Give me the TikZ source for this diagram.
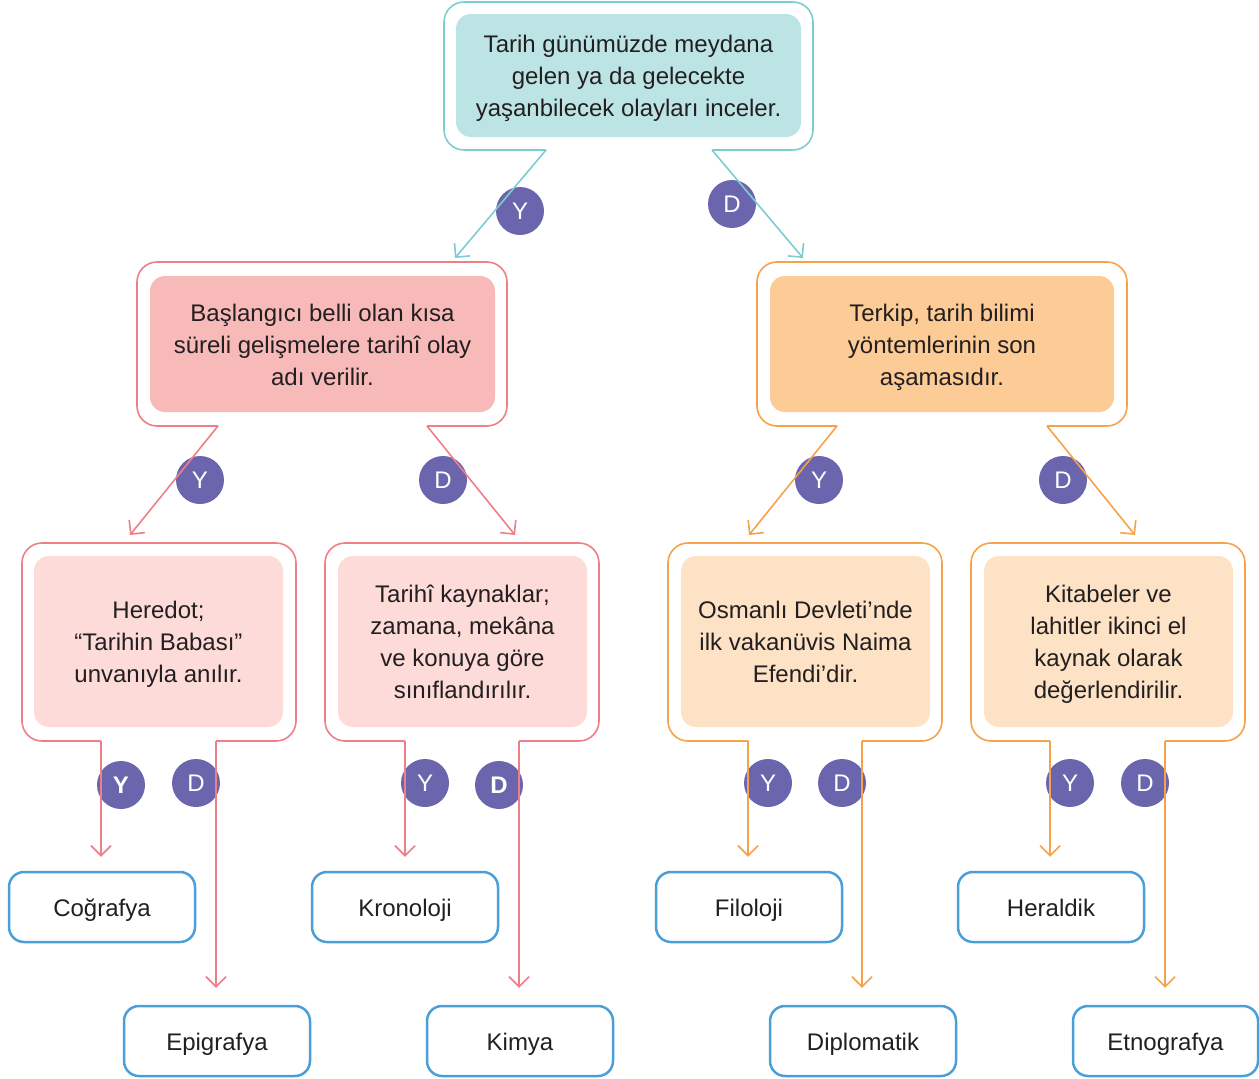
\documentclass[tikz,border=0pt]{standalone}
\usepackage{fontspec}
\setmainfont{Liberation Sans}
\usetikzlibrary{arrows.meta}
\definecolor{tealS}{HTML}{7CCDD1}
\definecolor{tealF}{HTML}{BDE4E5}
\definecolor{pinkS}{HTML}{EF7F86}
\definecolor{pinkF}{HTML}{F8B9B9}
\definecolor{pinkL}{HTML}{FCDBD9}
\definecolor{oraS}{HTML}{F6A24A}
\definecolor{oraF}{HTML}{FDCB95}
\definecolor{oraL}{HTML}{FDE2C6}
\definecolor{purp}{HTML}{6B65AD}
\definecolor{blueS}{HTML}{4B9FD8}
\definecolor{txtc}{HTML}{231F20}
\newcommand{\mlines}[1]{\raisebox{-3pt}[\height][\depth]{\begin{tabular}{@{}c@{}}#1\end{tabular}}}
\newcommand{\oneline}[1]{\raisebox{-3pt}[\height][\depth]{\strut #1}}
\begin{document}
\begin{tikzpicture}[x=1pt,y=-1pt,
  txt/.style={font=\fontsize{24}{32}\selectfont, text=txtc},
  inbox/.style={txt, rounded corners=15pt, inner sep=0pt},
  frame/.style={line width=1.6pt, rounded corners=20pt},
  conn/.style={line width=1.6pt, -{Straight Barb[length=10pt,width=20pt,line width=1.6pt]}},
  badge/.style={circle, fill=purp, text=white, minimum size=48pt, inner sep=0pt, font=\fontsize{24}{28}\selectfont},
  leaf/.style={txt, draw=blueS, line width=2.5pt, rounded corners=15pt, minimum width=186pt, minimum height=70pt, fill=white, inner sep=0pt}]
\useasboundingbox (0,0) rectangle (1259,1079);

% inner boxes
\node[inbox, fill=tealF, minimum width=345pt, minimum height=123pt] (top) at (628.5,75.5) {\mlines{Tarih günümüzde meydana\\gelen ya da gelecekte\\yaşanbilecek olayları inceler.}};
\node[inbox, fill=pinkF, minimum width=345pt, minimum height=136pt] (L) at (322.5,344) {\mlines{Başlangıcı belli olan kısa\\süreli gelişmelere tarihî olay\\adı verilir.}};
\node[inbox, fill=oraF, minimum width=344pt, minimum height=136pt] (R) at (942,344) {\mlines{Terkip, tarih bilimi\\yöntemlerinin son\\aşamasıdır.}};
\node[inbox, fill=pinkL, minimum width=249pt, minimum height=171pt] (A) at (158.5,641.5) {\mlines{Heredot;\\“Tarihin Babası”\\unvanıyla anılır.}};
\node[inbox, fill=pinkL, minimum width=249pt, minimum height=171pt] (B) at (462.5,641.5) {\mlines{Tarihî kaynaklar;\\zamana, mekâna\\ve konuya göre\\sınıflandırılır.}};
\node[inbox, fill=oraL, minimum width=249pt, minimum height=171pt] (C) at (805.5,641.5) {\mlines{Osmanlı Devleti’nde\\ilk vakanüvis Naima\\Efendi’dir.}};
\node[inbox, fill=oraL, minimum width=249pt, minimum height=171pt] (D) at (1108.5,641.5) {\mlines{Kitabeler ve\\lahitler ikinci el\\kaynak olarak\\değerlendirilir.}};

% leaves
\node[leaf] (cog) at (102,907) {\oneline{Coğrafya}};
\node[leaf] (epi) at (217,1041) {\oneline{Epigrafya}};
\node[leaf] (kro) at (405,907) {\oneline{Kronoloji}};
\node[leaf] (kim) at (520,1041) {\oneline{Kimya}};
\node[leaf] (fil) at (749,907) {\oneline{Filoloji}};
\node[leaf] (dip) at (863,1041) {\oneline{Diplomatik}};
\node[leaf] (her) at (1051,907) {\oneline{Heraldik}};
\node[leaf, minimum width=185pt] (etn) at (1165.5,1041) {\oneline{Etnografya}};

% frame junction coordinates
\coordinate (top-y) at (546,150); \coordinate (top-d) at (712,150);
\coordinate (L-y) at (218,426); \coordinate (L-d) at (427,426);
\coordinate (R-y) at (837,426); \coordinate (R-d) at (1047,426);
\coordinate (A-y) at (101,741); \coordinate (A-d) at (216,741);
\coordinate (B-y) at (405,741); \coordinate (B-d) at (519,741);
\coordinate (C-y) at (748,741); \coordinate (C-d) at (862,741);
\coordinate (D-y) at (1050,741); \coordinate (D-d) at (1165,741);
\coordinate (L-in) at (455,258); \coordinate (R-in) at (803,258);
\coordinate (A-in) at (130,535); \coordinate (B-in) at (515,535);
\coordinate (C-in) at (749,535); \coordinate (D-in) at (1135,535);

% frames
\draw[frame, tealS] (top-y) -- (444,150) -- (444,2) -- (813,2) -- (813,150) -- (top-d);
\draw[frame, pinkS] (L-y) -- (137,426) -- (137,262) -- (507,262) -- (507,426) -- (L-d);
\draw[frame, oraS] (R-y) -- (757,426) -- (757,262) -- (1127,262) -- (1127,426) -- (R-d);
\draw[frame, pinkS] (A-y) -- (22,741) -- (22,543) -- (296,543) -- (296,741) -- (A-d);
\draw[frame, pinkS] (B-y) -- (325,741) -- (325,543) -- (599,543) -- (599,741) -- (B-d);
\draw[frame, oraS] (C-y) -- (668,741) -- (668,543) -- (942,543) -- (942,741) -- (C-d);
\draw[frame, oraS] (D-y) -- (971,741) -- (971,543) -- (1245,543) -- (1245,741) -- (D-d);

% badges
\node[badge] (b1) at (520,211) {Y};
\node[badge] (b2) at (732,204) {D};
\node[badge] (b3) at (200,480) {Y};
\node[badge] (b4) at (443,480) {D};
\node[badge] (b5) at (819,480) {Y};
\node[badge] (b6) at (1063,480) {D};
\node[badge, font=\fontsize{24}{28}\selectfont\bfseries] (b7) at (121,785) {Y};
\node[badge] (b8) at (196,783) {D};
\node[badge] (b9) at (425,783) {Y};
\node[badge, font=\fontsize{24}{28}\selectfont\bfseries] (b10) at (499,785) {D};
\node[badge] (b11) at (768,783) {Y};
\node[badge] (b12) at (842,783) {D};
\node[badge] (b13) at (1070,783) {Y};
\node[badge] (b14) at (1145,783) {D};

% connectors
\draw[conn, tealS] (top-y) -- (L-in);
\draw[conn, tealS] (top-d) -- (R-in);
\draw[conn, pinkS] (L-y) -- (A-in);
\draw[conn, pinkS] (L-d) -- (B-in);
\draw[conn, oraS] (R-y) -- (C-in);
\draw[conn, oraS] (R-d) -- (D-in);
\draw[conn, pinkS, shorten >=14pt] (A-y) -- (A-y |- cog.north);
\draw[conn, pinkS, shorten >=17pt] (A-d) -- (A-d |- epi.north);
\draw[conn, pinkS, shorten >=14pt] (B-y) -- (B-y |- kro.north);
\draw[conn, pinkS, shorten >=17pt] (B-d) -- (B-d |- kim.north);
\draw[conn, oraS, shorten >=14pt] (C-y) -- (C-y |- fil.north);
\draw[conn, oraS, shorten >=17pt] (C-d) -- (C-d |- dip.north);
\draw[conn, oraS, shorten >=14pt] (D-y) -- (D-y |- her.north);
\draw[conn, oraS, shorten >=17pt] (D-d) -- (D-d |- etn.north);
\end{tikzpicture}
\end{document}
